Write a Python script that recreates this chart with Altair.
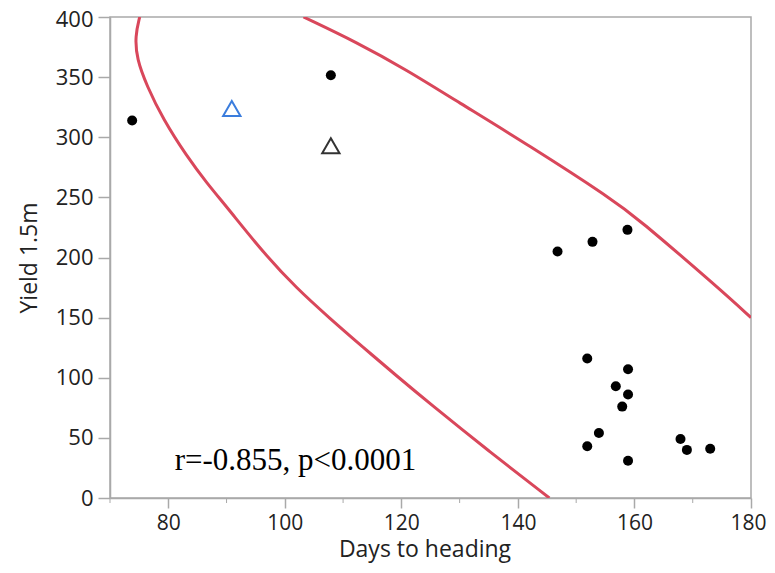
import altair as alt
import pandas as pd

# Observed points (Days to heading, Yield 1.5m)
dot_days = [73.8, 107.9, 146.8, 152.8, 158.8, 151.9, 158.9, 156.8, 158.9, 157.9, 153.9, 151.9, 158.9, 167.9, 169.0, 173.0]
dot_yield = [314, 351.5, 205, 213, 223, 116, 107, 93, 86, 76, 54, 43, 31, 49, 40, 41]

# Highlighted points (triangles)
tri_days = [90.9, 107.9]
tri_yield = [324, 293]
tri_group = ["blue", "black"]

# Density ellipse arcs
arc_lo_x = [75.1, 74.3, 74.6, 76.3, 79.1, 83.2, 86.6, 90.3, 96.3, 102.0, 107.7, 113.4, 119.2, 124.9, 135.0, 145.4]
arc_lo_y = [400, 384, 365, 343, 315, 284, 262, 240.5, 204, 174.5, 149.5, 125.5, 101.5, 78.5, 39, 0]
arc_hi_x = [103.2, 112.3, 120.9, 129.5, 142.0, 156.3, 160.3, 174.6, 180.0]
arc_hi_y = [400, 379, 356, 330, 293, 248, 233.5, 174, 150]

minor_ticks = [70, 90, 110, 130, 150, 170]
x_ticks = [80, 100, 120, 140, 160, 180]
y_ticks = [0, 50, 100, 150, 200, 250, 300, 350, 400]

annot_text = ["r=-0.855, p<0.0001"]
annot_x = [81.1]
annot_y = [23.3]

W, H = 641, 481
GRAY = "#a9a9a9"
RED = "#d9475b"

xs = alt.Scale(domain=[70, 180], nice=False, zero=False)
ys = alt.Scale(domain=[0, 400], nice=False, zero=False)

arcs = pd.DataFrame(
    [{"arc": "lo", "i": i, "x": x, "y": y} for i, (x, y) in enumerate(zip(arc_lo_x, arc_lo_y))]
    + [{"arc": "hi", "i": i, "x": x, "y": y} for i, (x, y) in enumerate(zip(arc_hi_x, arc_hi_y))]
)
dots = pd.DataFrame({"x": dot_days, "y": dot_yield})
tris = pd.DataFrame({"x": tri_days, "y": tri_yield, "g": tri_group})
minor = pd.DataFrame({"x": minor_ticks})
annot = pd.DataFrame({"x": annot_x, "y": annot_y, "t": annot_text})

xaxis = alt.Axis(
    values=x_ticks, title="Days to heading", grid=False, tickSize=10, labelPadding=4,
    domainColor=GRAY, tickColor=GRAY, labelColor="#222222", titleColor="#222222",
    labelFont="Open Sans", titleFont="Open Sans", labelFontSize=21, titleFontSize=23,
    titleFontWeight="normal", titlePadding=5, labelFlush=False, titleX=W / 2 - 6,
    labelOffset={"condition": {"test": "datum.value == 180", "value": -3}, "value": 0},
)
yaxis = alt.Axis(
    values=y_ticks, title="Yield 1.5m", grid=False, tickSize=12, labelPadding=5,
    domainColor=GRAY, tickColor=GRAY, labelColor="#222222", titleColor="#222222",
    labelFont="Open Sans", titleFont="Open Sans", labelFontSize=22, titleFontSize=23,
    titleFontWeight="normal", titlePadding=14, labelFlush=False,
    labelOffset={"condition": {"test": "datum.value == 400", "value": 2}, "value": 0},
)

lines = alt.Chart(arcs).mark_line(color=RED, strokeWidth=3, interpolate="basis", clip=True).encode(
    x=alt.X("x:Q", scale=xs, axis=xaxis),
    y=alt.Y("y:Q", scale=ys, axis=yaxis),
    detail="arc:N",
    order="i:Q",
)

pts = alt.Chart(dots).mark_point(filled=True, shape="circle", size=100, color="black", opacity=1).encode(
    x=alt.X("x:Q", scale=xs), y=alt.Y("y:Q", scale=ys)
)

tri = alt.Chart(tris).mark_point(shape="triangle-up", size=300, strokeWidth=2, filled=False, opacity=1).encode(
    x=alt.X("x:Q", scale=xs), y=alt.Y("y:Q", scale=ys),
    color=alt.Color("g:N", scale=alt.Scale(domain=["blue", "black"], range=["#3b7ddd", "#333333"]), legend=None),
)

txt = alt.Chart(annot).mark_text(font="Liberation Serif", fontSize=31, align="left", baseline="alphabetic", color="black").encode(
    x=alt.X("x:Q", scale=xs), y=alt.Y("y:Q", scale=ys), text="t:N"
)

mticks = alt.Chart(minor).mark_rule(color=GRAY, strokeWidth=1).encode(
    x=alt.X("x:Q", scale=xs), y=alt.value(H), y2=alt.value(H + 5)
)

chart = alt.layer(lines, mticks, pts, tri, txt).properties(
    width=W, height=H,
    autosize=alt.AutoSizeParams(type="none"),
    padding={"left": 102, "top": 9, "right": 16, "bottom": 65},
).configure_view(stroke=GRAY, strokeWidth=1.5).configure_axis(domainWidth=1.5, tickWidth=1.5)

chart.save("out.html", embed_options={"renderer": "svg", "actions": False})
